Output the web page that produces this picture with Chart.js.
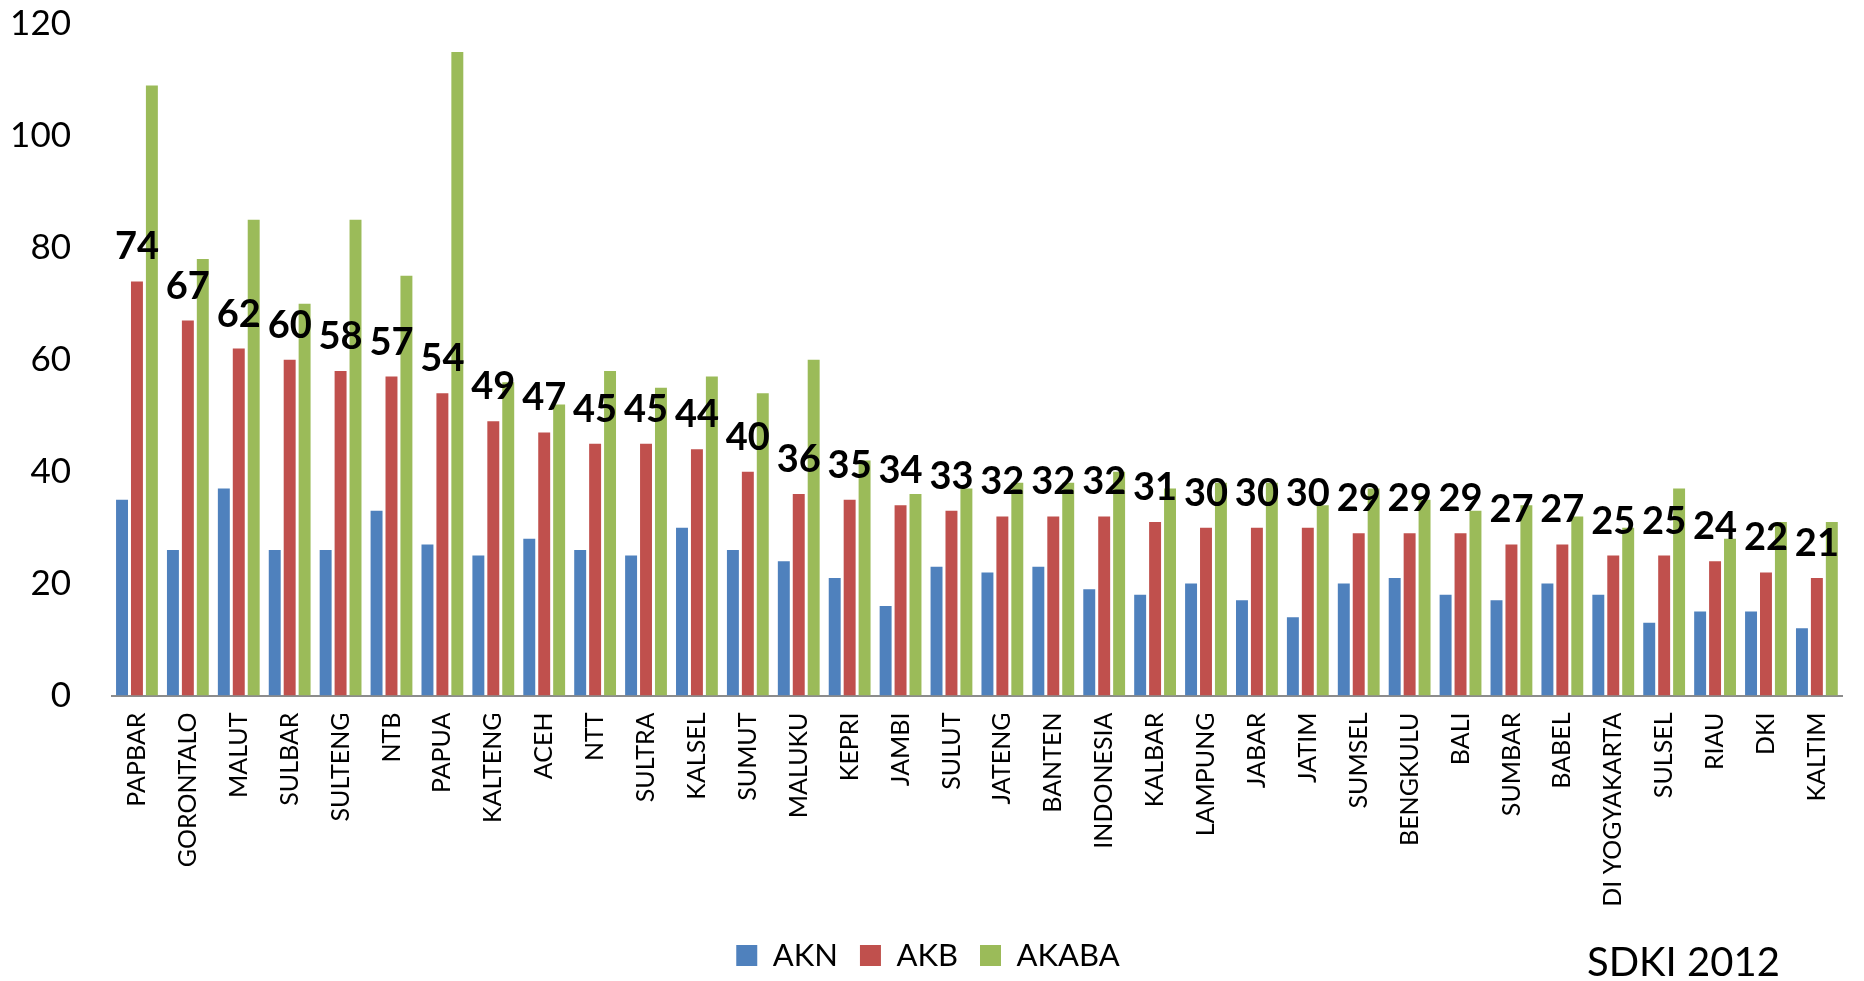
<!DOCTYPE html>
<html>
<head>
<meta charset="utf-8">
<script src="https://cdn.jsdelivr.net/npm/chart.js@4/dist/chart.umd.min.js"></script>
<style>
  html, body { margin: 0; padding: 0; background: #ffffff; }
  #wrap { position: relative; width: 1864px; height: 981px; }
  #note { position: absolute; left: 1587px; top: 937px; font: 40px Lato, sans-serif; line-height: 48px; color: #000; white-space: nowrap; }
</style>
</head>
<body>
<div id="wrap">
  <canvas id="c"></canvas>
  <div id="note">SDKI 2012</div>
</div>
<script>
const categories = ['PAPBAR','GORONTALO','MALUT','SULBAR','SULTENG','NTB','PAPUA','KALTENG','ACEH','NTT','SULTRA','KALSEL','SUMUT','MALUKU','KEPRI','JAMBI','SULUT','JATENG','BANTEN','INDONESIA','KALBAR','LAMPUNG','JABAR','JATIM','SUMSEL','BENGKULU','BALI','SUMBAR','BABEL','DI YOGYAKARTA','SULSEL','RIAU','DKI','KALTIM'];
const AKN   = [35,26,37,26,26,33,27,25,28,26,25,30,26,24,21,16,23,22,23,19,18,20,17,14,20,21,18,17,20,18,13,15,15,12];
const AKB   = [74,67,62,60,58,57,54,49,47,45,45,44,40,36,35,34,33,32,32,32,31,30,30,30,29,29,29,27,27,25,25,24,22,21];
const AKABA = [109,78,85,70,85,75,115,56,52,58,55,57,54,60,42,36,37,38,38,40,37,38,38,34,37,35,33,34,32,30,37,28,31,31];
const yTicks = { min: 0, max: 120, step: 20 };

const labelPlugin = {
  id: 'akbLabels',
  afterDatasetsDraw(chart) {
    const ctx = chart.ctx;
    const meta = chart.getDatasetMeta(1);
    ctx.save();
    ctx.font = 'bold 38px Lato, sans-serif';
    ctx.fillStyle = '#000';
    ctx.textAlign = 'center';
    ctx.textBaseline = 'alphabetic';
    meta.data.forEach((bar, i) => {
      ctx.fillText(String(AKB[i]), bar.x, bar.y - 22);
    });
    ctx.restore();
  }
};

new Chart(document.getElementById('c'), {
  type: 'bar',
  data: {
    labels: categories,
    datasets: [
      { label: 'AKN', data: AKN, backgroundColor: '#4F81BD' },
      { label: 'AKB', data: AKB, backgroundColor: '#C0504D' },
      { label: 'AKABA', data: AKABA, backgroundColor: '#9BBB59' }
    ]
  },
  options: {
    responsive: true,
    maintainAspectRatio: false,
    animation: false,
    layout: { padding: { top: 24, right: 8, left: 0, bottom: 0 } },
    datasets: { bar: { categoryPercentage: 0.88, barPercentage: 0.8 } },
    scales: {
      x: {
        grid: { display: false, drawTicks: false },
        border: { display: true, color: '#8C8C8C', width: 2 },
        ticks: {
          color: '#000',
          font: { family: 'Lato, sans-serif', size: 25 },
          minRotation: 90, maxRotation: 90,
          autoSkip: false,
          padding: 17
        },
        afterFit(scale) { scale.height = 222.5; }
      },
      y: {
        min: yTicks.min, max: yTicks.max,
        grid: { display: false, drawTicks: false },
        border: { display: false },
        ticks: {
          stepSize: yTicks.step,
          color: '#000',
          font: { family: 'Lato, sans-serif', size: 35 },
          padding: 40.5
        },
        afterFit(scale) { scale.width = 111.5; scale.paddingTop = 0; scale.paddingBottom = 0; }
      }
    },
    plugins: {
      legend: {
        position: 'bottom',
        labels: {
          color: '#000',
          font: { family: 'Lato, sans-serif', size: 31 },
          boxWidth: 21,
          boxHeight: 21,
          padding: 22
        }
      },
      tooltip: { enabled: false }
    }
  },
  plugins: [labelPlugin]
});
</script>
</body>
</html>
